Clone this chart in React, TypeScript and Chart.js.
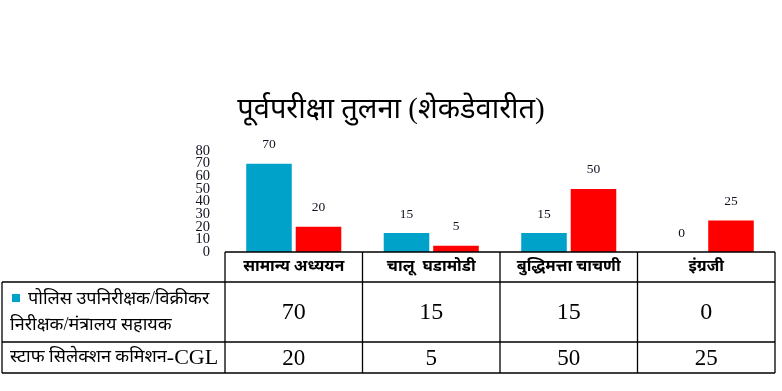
import React, { useEffect, useRef } from "react";
import { Chart, registerables } from "chart.js";

Chart.register(...registerables);

const TITLE = "पूर्वपरीक्षा तुलना (शेकडेवारीत)";
const categories = ["सामान्य अध्ययन", "चालू  घडामोडी", "बुद्धिमत्ता चाचणी", "इंग्रजी"];
const series1Name = "पोलिस उपनिरीक्षक/विक्रीकर निरीक्षक/मंत्रालय सहायक";
const series1NameLines = ["पोलिस उपनिरीक्षक/विक्रीकर", "निरीक्षक/मंत्रालय सहायक"];
const series2Name = "स्टाफ सिलेक्शन कमिशन-CGL";
const series1Values = [70, 15, 15, 0];
const series2Values = [20, 5, 50, 25];
const yMin = 0;
const yMax = 80;
const yStep = 10;

const BLUE = "#01a2c9";
const RED = "#ff0000";
const SERIF = "'Liberation Serif', 'Times New Roman', serif";
const DEVA = "'Liberation Serif', 'Noto Sans Devanagari', 'Noto Sans', sans-serif";

export default function App() {
  const ref = useRef<HTMLCanvasElement | null>(null);

  useEffect(() => {
    document.body.style.margin = "0";
    const canvas = ref.current;
    if (!canvas) return;

    const extras = {
      id: "extras",
      afterDatasetsDraw(chart: any) {
        const ctx = chart.ctx;
        ctx.save();
        ctx.fillStyle = "#111122";
        ctx.font = `13.5px ${SERIF}`;
        ctx.textAlign = "center";
        ctx.textBaseline = "middle";
        chart.data.datasets.forEach((ds: any, i: number) => {
          const meta = chart.getDatasetMeta(i);
          meta.data.forEach((bar: any, j: number) => {
            ctx.fillText(String(ds.data[j]), bar.x, bar.y - 19);
          });
        });
        ctx.restore();
      },
      afterDraw(chart: any) {
        const ctx = chart.ctx;
        const area = chart.chartArea;
        const xs = chart.scales.x;
        const n = categories.length;
        const catW = (area.right - area.left) / n;
        const bounds: number[] = [];
        for (let i = 0; i < n; i++) bounds.push(xs.getPixelForValue(i) - catW / 2);
        bounds.push(area.right);

        ctx.save();
        // title
        ctx.fillStyle = "#000";
        ctx.font = `29px ${DEVA}`;
        ctx.textAlign = "center";
        ctx.textBaseline = "middle";
        ctx.fillText(TITLE, chart.width / 2, 110);

        // table
        const top = area.bottom;
        const r1 = top + 30;
        const r2 = r1 + 60;
        const r3 = r2 + 31;
        const tableLeft = 2;
        ctx.strokeStyle = "#000";
        ctx.lineWidth = 1.3;
        ctx.beginPath();
        ctx.moveTo(area.left, top);
        ctx.lineTo(area.right, top);
        ctx.moveTo(tableLeft, r1);
        ctx.lineTo(area.right, r1);
        ctx.moveTo(tableLeft, r2);
        ctx.lineTo(area.right, r2);
        ctx.moveTo(tableLeft, r3);
        ctx.lineTo(area.right, r3);
        ctx.moveTo(tableLeft, r1);
        ctx.lineTo(tableLeft, r3);
        bounds.forEach((b) => {
          ctx.moveTo(b, top);
          ctx.lineTo(b, r3);
        });
        ctx.stroke();

        ctx.fillStyle = "#000";
        ctx.textAlign = "center";
        ctx.textBaseline = "middle";
        for (let i = 0; i < n; i++) {
          const cx = (bounds[i] + bounds[i + 1]) / 2;
          ctx.font = `bold 16px ${DEVA}`;
          ctx.fillText(categories[i], cx, (top + r1) / 2);
          ctx.font = `24px ${SERIF}`;
          ctx.fillText(String(series1Values[i]), cx, (r1 + r2) / 2 + 1);
          ctx.font = `23px ${SERIF}`;
          ctx.fillText(String(series2Values[i]), cx, (r2 + r3) / 2 + 1);
        }

        // row labels
        ctx.textAlign = "left";
        ctx.fillStyle = BLUE;
        ctx.fillRect(12, r1 + 12, 8, 8);
        ctx.fillStyle = "#000";
        ctx.font = `18px ${DEVA}`;
        ctx.fillText(series1NameLines[0], 28, r1 + 17);
        ctx.fillText(series1NameLines[1], 10, r1 + 43);
        const dash = series2Name.indexOf("-");
        const devPart = dash >= 0 ? series2Name.slice(0, dash) : series2Name;
        const latPart = dash >= 0 ? series2Name.slice(dash) : "";
        const y3 = (r2 + r3) / 2;
        ctx.fillText(devPart, 10, y3);
        const w = ctx.measureText(devPart).width;
        ctx.font = `22px ${SERIF}`;
        ctx.fillText(latPart, 10 + w, y3 + 1);
        ctx.restore();
      },
    };

    const chart = new Chart(canvas, {
      type: "bar",
      data: {
        labels: categories,
        datasets: [
          { label: series1Name, data: series1Values, backgroundColor: BLUE, categoryPercentage: 0.72, barPercentage: 0.92 },
          { label: series2Name, data: series2Values, backgroundColor: RED, categoryPercentage: 0.72, barPercentage: 0.92 },
        ],
      },
      options: {
        responsive: false,
        animation: false,
        layout: { padding: { top: 151, right: 7, bottom: 139, left: 0 } },
        plugins: {
          legend: { display: false },
          title: { display: false },
          tooltip: { enabled: false },
        },
        scales: {
          x: { display: false, grid: { display: false } },
          y: {
            min: yMin,
            max: yMax,
            ticks: {
              stepSize: yStep,
              autoSkip: false,
              padding: 7,
              color: "#111122",
              font: { family: SERIF, size: 14.5 },
            },
            grid: { display: false },
            border: { display: false },
            afterFit(scale: any) {
              scale.width = 225;
            },
          },
        },
      },
      plugins: [extras],
    });
    return () => chart.destroy();
  }, []);

  return <canvas ref={ref} width={782} height={391} style={{ display: "block" }} />;
}
